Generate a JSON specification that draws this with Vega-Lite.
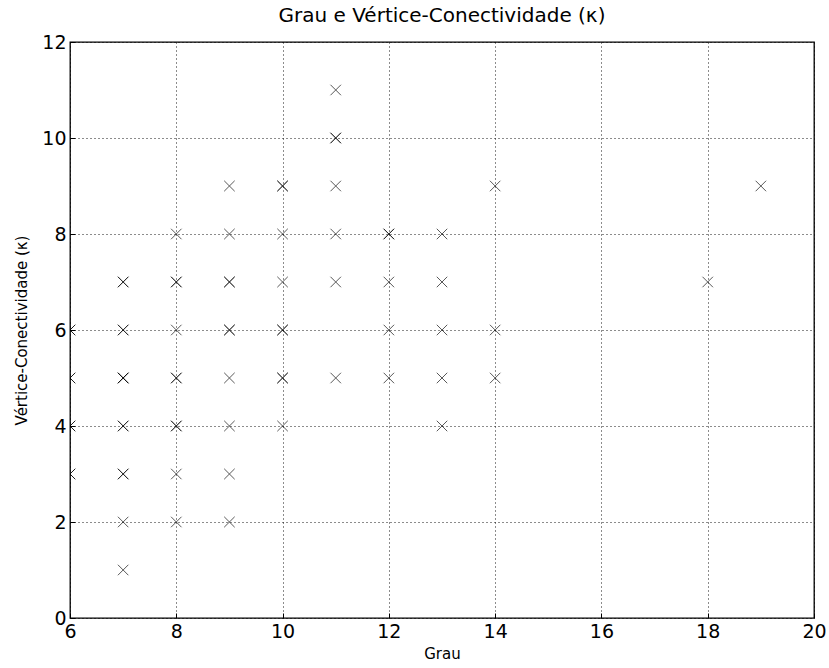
{
  "$schema": "https://vega.github.io/schema/vega-lite/v6.json",
  "width": 744,
  "height": 576,
  "autosize": {"type": "none"},
  "padding": {"left": 70, "top": 42, "right": 15, "bottom": 50},
  "background": "white",
  "title": {"text": "Grau e Vértice-Conectividade (κ)", "fontSize": 20, "font": "DejaVu Sans", "fontWeight": "normal", "color": "#000", "offset": 7},
  "config": {
    "view": {"stroke": "#000", "strokeWidth": 1.3},
    "axis": {"labelFont": "DejaVu Sans", "titleFont": "DejaVu Sans", "labelColor": "#000", "titleColor": "#000", "titleFontWeight": "normal", "grid": true, "gridColor": "#000", "gridDash": [1, 3], "gridWidth": 1, "gridOpacity": 0.9, "domain": false, "tickColor": "#000", "tickSize": -5}
  },
  "data": {"values": [
    {"grau": 6, "k": 3}, {"grau": 6, "k": 4}, {"grau": 6, "k": 5}, {"grau": 6, "k": 6},
    {"grau": 6, "k": 3}, {"grau": 6, "k": 5}, {"grau": 6, "k": 4}, {"grau": 6, "k": 6},
    {"grau": 7, "k": 1}, {"grau": 7, "k": 2}, {"grau": 7, "k": 3}, {"grau": 7, "k": 4}, {"grau": 7, "k": 5}, {"grau": 7, "k": 6}, {"grau": 7, "k": 7},
    {"grau": 7, "k": 3}, {"grau": 7, "k": 4}, {"grau": 7, "k": 5}, {"grau": 7, "k": 6}, {"grau": 7, "k": 7}, {"grau": 7, "k": 5},
    {"grau": 8, "k": 2}, {"grau": 8, "k": 3}, {"grau": 8, "k": 4}, {"grau": 8, "k": 5}, {"grau": 8, "k": 6}, {"grau": 8, "k": 7}, {"grau": 8, "k": 8},
    {"grau": 8, "k": 4}, {"grau": 8, "k": 5}, {"grau": 8, "k": 7},
    {"grau": 9, "k": 2}, {"grau": 9, "k": 3}, {"grau": 9, "k": 4}, {"grau": 9, "k": 5}, {"grau": 9, "k": 6}, {"grau": 9, "k": 7}, {"grau": 9, "k": 8}, {"grau": 9, "k": 9},
    {"grau": 9, "k": 7}, {"grau": 9, "k": 6},
    {"grau": 10, "k": 4}, {"grau": 10, "k": 5}, {"grau": 10, "k": 6}, {"grau": 10, "k": 7}, {"grau": 10, "k": 8}, {"grau": 10, "k": 9},
    {"grau": 10, "k": 5}, {"grau": 10, "k": 6}, {"grau": 10, "k": 9},
    {"grau": 11, "k": 5}, {"grau": 11, "k": 7}, {"grau": 11, "k": 8}, {"grau": 11, "k": 9}, {"grau": 11, "k": 10}, {"grau": 11, "k": 11},
    {"grau": 11, "k": 10},
    {"grau": 12, "k": 5}, {"grau": 12, "k": 6}, {"grau": 12, "k": 7}, {"grau": 12, "k": 8},
    {"grau": 12, "k": 8},
    {"grau": 13, "k": 4}, {"grau": 13, "k": 5}, {"grau": 13, "k": 6}, {"grau": 13, "k": 7}, {"grau": 13, "k": 8},
    {"grau": 14, "k": 5}, {"grau": 14, "k": 6}, {"grau": 14, "k": 9},
    {"grau": 18, "k": 7},
    {"grau": 19, "k": 9}
  ]},
  "mark": {"type": "point", "shape": "M-1,-1L1,1M-1,1L1,-1", "filled": false, "stroke": "#000", "strokeWidth": 1, "opacity": 0.65, "size": 110, "clip": true},
  "encoding": {
    "x": {"field": "grau", "type": "quantitative", "scale": {"domain": [6, 20], "nice": false, "zero": false},
      "axis": {"values": [6, 8, 10, 12, 14, 16, 18, 20], "title": "Grau", "labelFontSize": 19, "titleFontSize": 15, "labelPadding": 9, "titlePadding": 5, "labelFlush": false}},
    "y": {"field": "k", "type": "quantitative", "scale": {"domain": [0, 12], "nice": false},
      "axis": {"values": [0, 2, 4, 6, 8, 10, 12], "title": "Vértice-Conectividade (κ)", "labelFontSize": 19, "titleFontSize": 15, "labelPadding": 9, "titlePadding": 12, "labelFlush": false}}
  }
}
